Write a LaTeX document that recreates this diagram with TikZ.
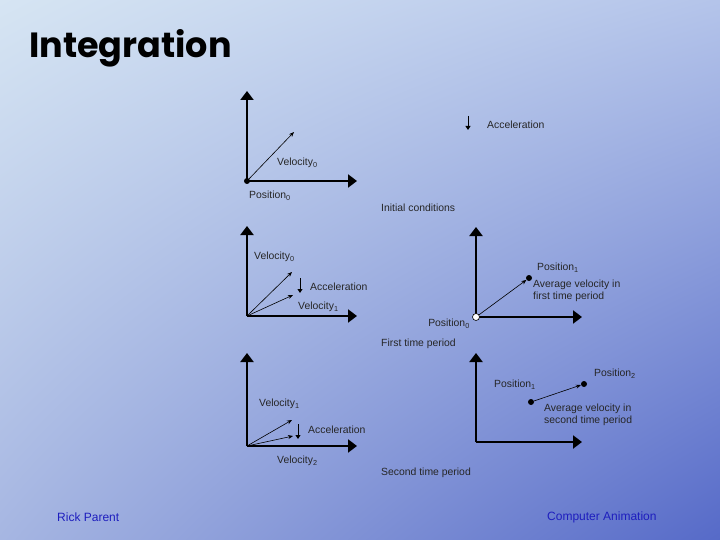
\documentclass[tikz,border=0pt]{standalone}
\usepackage{fontspec}
\setmainfont{Liberation Sans}
\newfontfamily\titlefont{Poppins}
\usetikzlibrary{arrows.meta, positioning, shadings}

\definecolor{bgtl}{RGB}{214,229,243}
\definecolor{bgtr}{RGB}{180,196,234}
\definecolor{bgbl}{RGB}{166,182,226}
\definecolor{bgbr}{RGB}{86,106,200}
\definecolor{foottext}{RGB}{30,30,190}

\begin{document}
\begin{tikzpicture}[x=1pt, y=-1pt,
  axis/.style={line width=2.8pt, -{Triangle[width=13pt,length=9pt]}},
  vel/.style={line width=0.6pt, -{Stealth[length=5pt,width=4pt]}},
  acc/.style={line width=0.8pt, -{Triangle[width=5pt,length=4pt]}},
  lbl/.style={font=\fontsize{10.4}{12}\selectfont, text=black!85, inner sep=0pt, anchor=west, align=left},
  dot/.style={circle, fill=black, inner sep=0pt, minimum size=6pt},
  hollowdot/.style={circle, draw=black, fill=white, line width=0.6pt, inner sep=0pt, minimum size=7pt},
  foot/.style={font=\fontsize{12}{14}\selectfont, text=foottext, inner sep=0pt, anchor=west}]

% background
\shade[upper left=bgtl, upper right=bgtr, lower left=bgbl, lower right=bgbr] (0,0) rectangle (720,540);
\useasboundingbox (0,0) rectangle (720,540);

\node[font=\titlefont\bfseries\fontsize{35}{40}\selectfont, anchor=base west, inner sep=0pt] (title) at (29,58) {Integration};

% initial conditions
\coordinate (o1) at (247,181);
\coordinate (y1) at (247,91);
\coordinate (x1) at (357,181);
\coordinate (v0) at (294,132);
\draw[axis] (o1) -- (y1);
\draw[axis] (o1) -- (x1);
\draw[vel] (o1) -- (v0);
\node[dot] (pos0) at (o1) {};
\node[lbl] (lv0) at (277,163) {Velocity\textsubscript{0}};
\node[lbl] (lp0) at (249,196) {Position\textsubscript{0}};

\coordinate (as) at (468,116);
\coordinate (ae) at (468,130);
\draw[acc] (as) -- (ae);
\node[lbl] (la) at (487,125) {Acceleration};
\node[lbl] (init) at (381,208) {Initial conditions};

% first time period, velocities
\coordinate (o2) at (247,316);
\coordinate (y2) at (247,226);
\coordinate (x2) at (357,316);
\coordinate (v2a) at (292,272);
\coordinate (v2b) at (293,295);
\draw[axis] (o2) -- (y2);
\draw[axis] (o2) -- (x2);
\draw[vel] (o2) -- (v2a);
\draw[vel] (o2) -- (v2b);
\coordinate (a2s) at (300,278);
\coordinate (a2e) at (300,293);
\draw[acc] (a2s) -- (a2e);
\node[lbl] (lv2a) at (254,257) {Velocity\textsubscript{0}};
\node[lbl] (la2) at (310,287) {Acceleration};
\node[lbl] (lv2b) at (298,307) {Velocity\textsubscript{1}};

% first time period, positions
\coordinate (o3) at (476,317);
\coordinate (y3) at (476,227);
\coordinate (x3) at (582,317);
\draw[axis] (o3) -- (y3);
\draw[axis] (o3) -- (x3);
\node[hollowdot] (p3a) at (o3) {};
\node[dot] (p3b) at (529,278) {};
\draw[vel] (p3a) -- (p3b);
\node[lbl] (lp3b) at (537,268) {Position\textsubscript{1}};
\node[lbl, anchor=north west] (lavg1) at (533,280) {Average velocity in\\first time period};
\node[lbl, anchor=east] (lp3a) at (470,324) {Position\textsubscript{0}};
\node[lbl] (first) at (381,344) {First time period};

% second time period, velocities
\coordinate (o4) at (247,446);
\coordinate (y4) at (247,353);
\coordinate (x4) at (357,446);
\coordinate (v4a) at (292,420);
\coordinate (v4b) at (293,436);
\draw[axis] (o4) -- (y4);
\draw[axis] (o4) -- (x4);
\draw[vel] (o4) -- (v4a);
\draw[vel] (o4) -- (v4b);
\coordinate (a4s) at (298,424);
\coordinate (a4e) at (298,439);
\draw[acc] (a4s) -- (a4e);
\node[lbl] (lv4a) at (259,404) {Velocity\textsubscript{1}};
\node[lbl] (la4) at (308,430) {Acceleration};
\node[lbl] (lv4b) at (277,461) {Velocity\textsubscript{2}};

% second time period, positions
\coordinate (o5) at (476,442);
\coordinate (y5) at (476,353);
\coordinate (x5) at (582,442);
\draw[axis] (o5) -- (y5);
\draw[axis] (o5) -- (x5);
\node[dot] (p5a) at (531,402) {};
\node[dot] (p5b) at (584,384) {};
\draw[vel] (p5a) -- (p5b);
\node[lbl] (lp5a) at (494,385) {Position\textsubscript{1}};
\node[lbl] (lp5b) at (594,374) {Position\textsubscript{2}};
\node[lbl, anchor=north west] (lavg2) at (544,404) {Average velocity in\\second time period};
\node[lbl] (second) at (381,473) {Second time period};

% footer
\node[foot] (author) at (57,517) {Rick Parent};
\node[foot] (course) at (547,517) {Computer Animation};
\end{tikzpicture}
\end{document}
